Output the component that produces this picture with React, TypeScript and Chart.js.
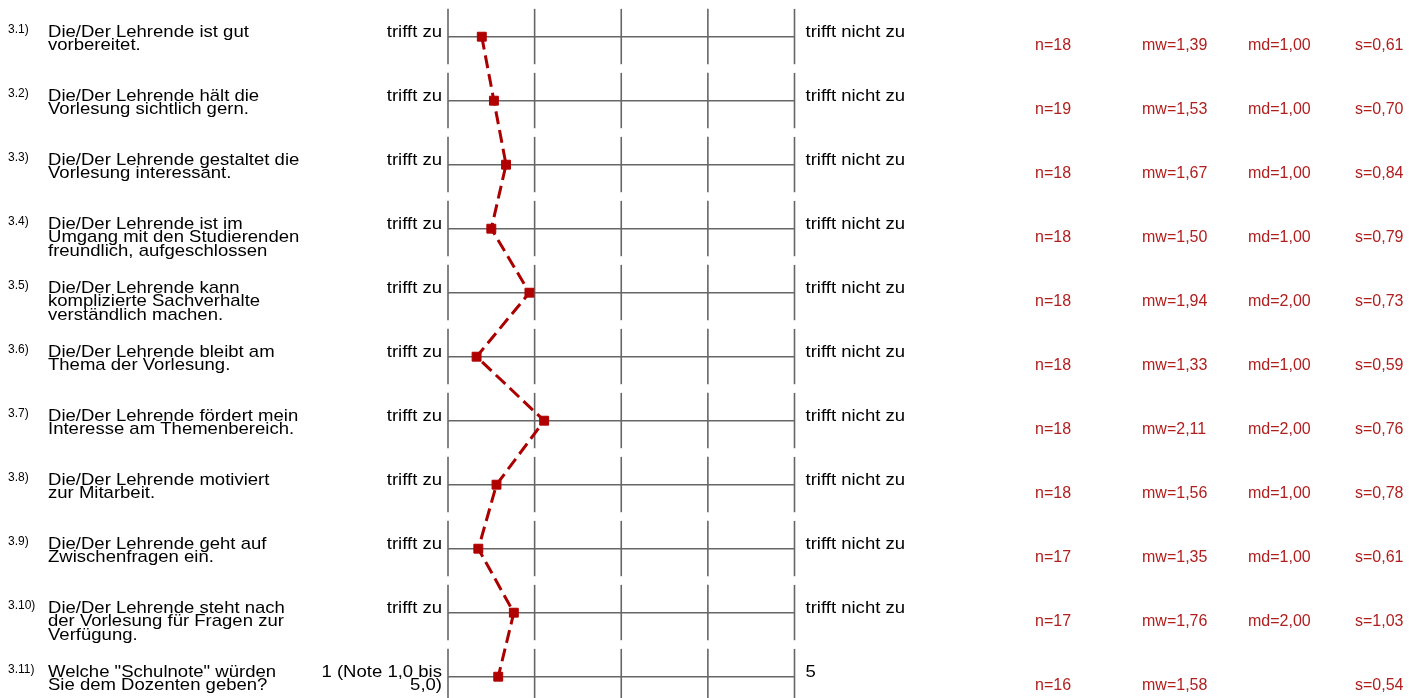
import { useEffect, useRef } from 'react';
import { Chart, registerables } from 'chart.js';

Chart.register(...registerables);

const itemNumbers: string[] = ['3.1)', '3.2)', '3.3)', '3.4)', '3.5)', '3.6)', '3.7)', '3.8)', '3.9)', '3.10)', '3.11)'];

const questions: string[][] = [
  ['Die/Der Lehrende ist gut', 'vorbereitet.'],
  ['Die/Der Lehrende hält die', 'Vorlesung sichtlich gern.'],
  ['Die/Der Lehrende gestaltet die', 'Vorlesung interessant.'],
  ['Die/Der Lehrende ist im', 'Umgang mit den Studierenden', 'freundlich, aufgeschlossen'],
  ['Die/Der Lehrende kann', 'komplizierte Sachverhalte', 'verständlich machen.'],
  ['Die/Der Lehrende bleibt am', 'Thema der Vorlesung.'],
  ['Die/Der Lehrende fördert mein', 'Interesse am Themenbereich.'],
  ['Die/Der Lehrende motiviert', 'zur Mitarbeit.'],
  ['Die/Der Lehrende geht auf', 'Zwischenfragen ein.'],
  ['Die/Der Lehrende steht nach', 'der Vorlesung für Fragen zur', 'Verfügung.'],
  ['Welche "Schulnote" würden', 'Sie dem Dozenten geben?'],
];

const leftPoleLabels: string[][] = [
  ['trifft zu'], ['trifft zu'], ['trifft zu'], ['trifft zu'], ['trifft zu'],
  ['trifft zu'], ['trifft zu'], ['trifft zu'], ['trifft zu'], ['trifft zu'],
  ['1 (Note 1,0 bis', '5,0)'],
];

const rightPoleLabels: string[] = [
  'trifft nicht zu', 'trifft nicht zu', 'trifft nicht zu', 'trifft nicht zu', 'trifft nicht zu',
  'trifft nicht zu', 'trifft nicht zu', 'trifft nicht zu', 'trifft nicht zu', 'trifft nicht zu',
  '5',
];

const nValues: number[] = [18, 19, 18, 18, 18, 18, 18, 18, 17, 17, 16];
const meanValues: number[] = [1.39, 1.53, 1.67, 1.5, 1.94, 1.33, 2.11, 1.56, 1.35, 1.76, 1.58];
const medianValues: (number | null)[] = [1, 1, 1, 1, 2, 1, 2, 1, 1, 2, null];
const sdValues: number[] = [0.61, 0.7, 0.84, 0.79, 0.73, 0.59, 0.76, 0.78, 0.61, 1.03, 0.54];

const scaleTicks: number[] = [1, 2, 3, 4, 5];

const fmt = (v: number) => v.toFixed(2).replace('.', ',');

const FAMILY = '"Liberation Sans", Arial, Helvetica, sans-serif';
const LABEL_FONT = '17px ' + FAMILY;
const LABEL_STRETCH = 1.09;
const SUP_FONT = '12px ' + FAMILY;
const STAT_FONT = '16px ' + FAMILY;
const LINE_GAP = 13.6;

function drawText(ctx: CanvasRenderingContext2D, text: string, x: number, y: number, align: CanvasTextAlign, sx: number) {
  ctx.save();
  ctx.translate(x, y);
  ctx.scale(sx, 1);
  ctx.textAlign = align;
  ctx.fillText(text, 0, 0);
  ctx.restore();
}

const profilePlugin = {
  id: 'profileDecor',
  beforeDatasetsDraw(chart: any) {
    const { ctx, scales } = chart;
    const x = scales.x;
    const y = scales.y;
    ctx.save();
    ctx.strokeStyle = '#666666';
    ctx.lineWidth = 1.6;
    for (let i = 0; i < meanValues.length; i++) {
      const ly = y.getPixelForValue(i);
      ctx.beginPath();
      ctx.moveTo(x.getPixelForValue(scaleTicks[0]), ly);
      ctx.lineTo(x.getPixelForValue(scaleTicks[scaleTicks.length - 1]), ly);
      ctx.stroke();
      for (const t of scaleTicks) {
        const px = x.getPixelForValue(t);
        ctx.beginPath();
        ctx.moveTo(px, y.getPixelForValue(i - 0.435));
        ctx.lineTo(px, y.getPixelForValue(i + 0.43));
        ctx.stroke();
      }
    }
    ctx.restore();
  },
  afterDraw(chart: any) {
    const { ctx, scales } = chart;
    const x = scales.x;
    const y = scales.y;
    const leftEdge = x.getPixelForValue(scaleTicks[0]);
    const rightEdge = x.getPixelForValue(scaleTicks[scaleTicks.length - 1]);
    ctx.save();
    ctx.textBaseline = 'alphabetic';
    for (let i = 0; i < meanValues.length; i++) {
      const ly = y.getPixelForValue(i);
      const base = ly;
      ctx.fillStyle = '#000';
      ctx.font = SUP_FONT;
      drawText(ctx, itemNumbers[i], 8, base - 4, 'left', 1);
      ctx.font = LABEL_FONT;
      questions[i].forEach((line, k) => drawText(ctx, line, 48, base + k * LINE_GAP, 'left', LABEL_STRETCH));
      leftPoleLabels[i].forEach((line, k) => drawText(ctx, line, leftEdge - 6, base + k * LINE_GAP, 'right', LABEL_STRETCH));
      drawText(ctx, rightPoleLabels[i], rightEdge + 11, base, 'left', LABEL_STRETCH);
      ctx.font = STAT_FONT;
      ctx.fillStyle = '#b01e1e';
      const sb = ly + 12.8;
      drawText(ctx, 'n=' + nValues[i], 1035, sb, 'left', 1);
      drawText(ctx, 'mw=' + fmt(meanValues[i]), 1142, sb, 'left', 1);
      const md = medianValues[i];
      if (md !== null) drawText(ctx, 'md=' + fmt(md), 1248, sb, 'left', 1);
      drawText(ctx, 's=' + fmt(sdValues[i]), 1355, sb, 'left', 1);
    }
    ctx.restore();
  },
};

export default function App() {
  const canvasRef = useRef<HTMLCanvasElement | null>(null);

  useEffect(() => {
    const canvas = canvasRef.current;
    if (!canvas) return;
    const chart = new Chart(canvas, {
      type: 'scatter',
      data: {
        datasets: [
          {
            data: meanValues.map((m, i) => ({ x: m, y: i })),
            showLine: true,
            borderColor: '#aa0000',
            borderWidth: 3,
            borderDash: [13, 6],
            tension: 0,
            fill: false,
            pointStyle: 'rect',
            pointRadius: 6.3,
            pointBackgroundColor: '#b00000',
            pointBorderColor: '#b00000',
            pointBorderWidth: 1,
            clip: false,
          } as any,
        ],
      },
      options: {
        responsive: false,
        animation: false,
        devicePixelRatio: 1,
        layout: { padding: { left: 448, right: 625.5, top: 10, bottom: 10 } },
        plugins: { legend: { display: false }, tooltip: { enabled: false } },
        scales: {
          x: { type: 'linear', min: 1, max: 5, display: false },
          y: { type: 'linear', min: -26.7 / 64, max: 651.3 / 64, reverse: true, display: false },
        },
      },
      plugins: [profilePlugin],
    });
    return () => chart.destroy();
  }, []);

  return (
    <div style={{ position: 'fixed', left: 0, top: 0, width: 1420, height: 698, background: '#fff', overflow: 'hidden' }}>
      <canvas ref={canvasRef} width={1420} height={698} style={{ display: 'block' }} />
    </div>
  );
}
